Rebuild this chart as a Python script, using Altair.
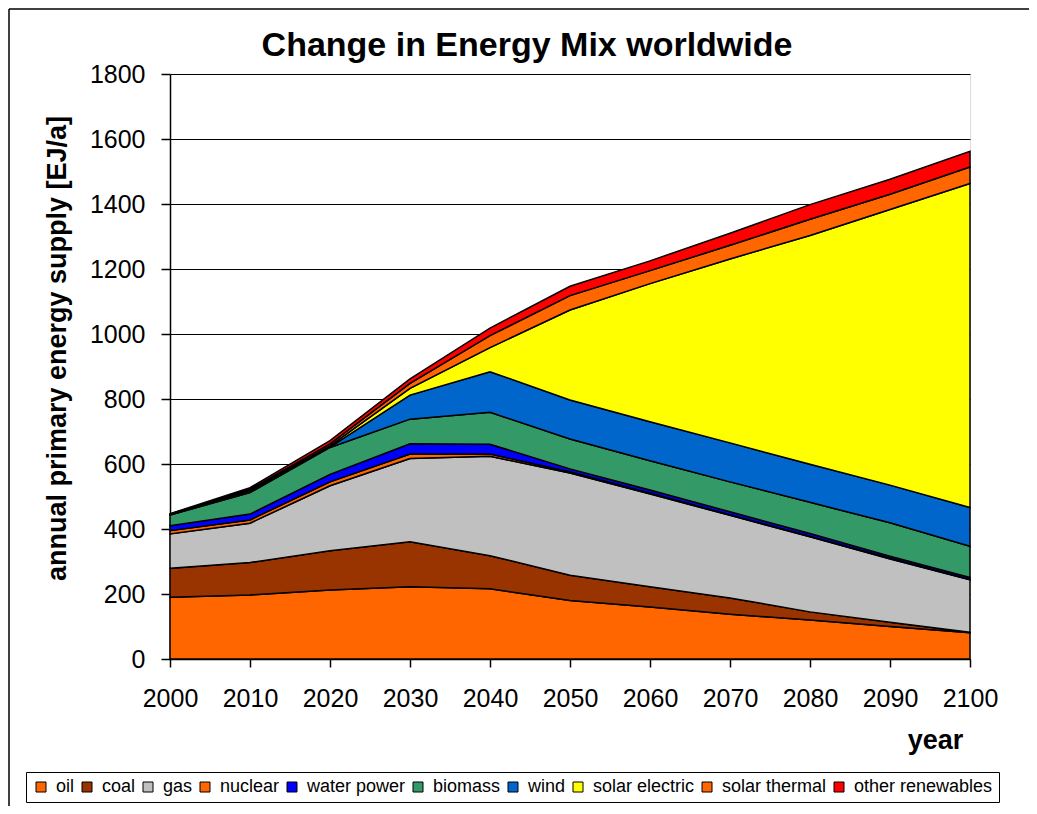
import altair as alt
import pandas as pd

years = [2000, 2010, 2020, 2030, 2040, 2050, 2060, 2070, 2080, 2090, 2100]

oil = [190, 197, 212, 222, 216, 180, 160, 138, 120, 100, 81]
coal = [89, 100, 121, 139, 102, 78, 62, 50, 25, 13, 1]
gas = [106, 121, 200, 256, 306, 314, 286, 254, 231, 195, 162]
nuclear = [10, 10, 12, 14, 7, 4, 3, 2, 2, 2, 1]
water_power = [15, 18, 23, 31, 30, 9, 9, 9, 8, 6, 6]
biomass = [33, 66, 83, 76, 98, 92, 90, 92, 96, 103, 96]
wind = [1, 3, 1, 74, 125, 120, 120, 120, 117, 116, 119]
solar_electric = [1, 3, 4, 21, 74, 277, 425, 566, 704, 848, 997]
solar_thermal = [1, 4, 6, 15, 37, 44, 40, 42, 50, 47, 51]
other_renewables = [1, 5, 10, 14, 23, 29, 30, 37, 45, 46, 48]

series_names = ["oil", "coal", "gas", "nuclear", "water power", "biomass",
                "wind", "solar electric", "solar thermal", "other renewables"]
series_values = [oil, coal, gas, nuclear, water_power, biomass, wind,
                 solar_electric, solar_thermal, other_renewables]
series_colors = ["#FF6600", "#993300", "#C0C0C0", "#FF6600", "#0000FF",
                 "#339966", "#0066CC", "#FFFF00", "#FF6600", "#FF0000"]

y_ticks = [0, 200, 400, 600, 800, 1000, 1200, 1400, 1600, 1800]

rows = []
for i, (name, vals) in enumerate(zip(series_names, series_values)):
    for yr, v in zip(years, vals):
        rows.append({"year": yr, "source": name, "value": v, "order": i})
df = pd.DataFrame(rows)

FONT = "Liberation Sans"

area = alt.Chart(df).mark_area(stroke="black", strokeWidth=1.5, opacity=1).encode(
    x=alt.X("year:Q",
            scale=alt.Scale(domain=[2000, 2100], nice=False, zero=False),
            axis=alt.Axis(values=years, format="d", title="year",
                          labelFontSize=25, labelFont=FONT, labelColor="black",
                          labelPadding=19, labelFlush=False, labelOverlap=False,
                          tickSize=8, tickColor="black", tickWidth=1.5,
                          domainColor="black", domainWidth=1.5, grid=False,
                          titleFont=FONT, titleFontSize=27, titleFontWeight="bold",
                          titleColor="black", titleX=765, titleY=89,
                          titleAlign="center", titleBaseline="alphabetic")),
    y=alt.Y("value:Q", stack="zero",
            scale=alt.Scale(domain=[0, 1800], nice=False),
            axis=alt.Axis(values=y_ticks, format="d",
                          title="annual primary energy supply [EJ/a]",
                          labelFontSize=25, labelFont=FONT, labelColor="black",
                          labelPadding=16, labelOverlap=False,
                          tickSize=9, tickColor="black", tickWidth=1.5,
                          domainColor="black", domainWidth=1.5,
                          grid=True, gridColor="black", gridWidth=1, gridOpacity=1,
                          titleFont=FONT, titleFontSize=27, titleFontWeight="bold",
                          titleColor="black", titleX=-105, titleY=274, titleAngle=270,
                          titleAlign="center", titleBaseline="alphabetic")),
    color=alt.Color("source:N",
                    scale=alt.Scale(domain=series_names, range=series_colors),
                    legend=alt.Legend(orient="none", legendX=-144, legendY=698,
                                      direction="horizontal", columns=10, title=None,
                                      symbolType="square", symbolSize=100,
                                      symbolStrokeColor="black", symbolStrokeWidth=1,
                                      symbolOpacity=1,
                                      labelFont=FONT, labelFontSize=18, labelColor="black",
                                      labelOffset=6, columnPadding=3,
                                      strokeColor="black", fillColor="white", padding=6)),
    order=alt.Order("order:Q", sort="ascending"),
)

frame_df = pd.DataFrame({"k": [0]})
left_line = alt.Chart(frame_df).mark_rule(color="black", strokeWidth=1.5).encode(
    x=alt.value(-161), y=alt.value(-65), y2=alt.value(740))
top_line = alt.Chart(frame_df).mark_rule(color="black", strokeWidth=1.5).encode(
    x=alt.value(-161), x2=alt.value(860), y=alt.value(-65))
right_line = alt.Chart(frame_df).mark_rule(color="black", strokeWidth=1.5).encode(
    x=alt.value(860), y=alt.value(-65), y2=alt.value(740))

chart = alt.layer(area, left_line, top_line, right_line).properties(
    width=800, height=585,
    autosize="none",
    padding={"left": 162, "top": 66, "right": 59, "bottom": 147},
    title=alt.TitleParams(text="Change in Energy Mix worldwide", font=FONT,
                          fontSize=34, fontWeight="bold", color="black",
                          anchor="middle", dx=-43, dy=104, offset=22,
                          baseline="alphabetic"),
).configure_view(fill="#C0C0C0", stroke="#808080").configure(background="white")

chart.save("out.html", embed_options={"renderer": "svg", "actions": False})
